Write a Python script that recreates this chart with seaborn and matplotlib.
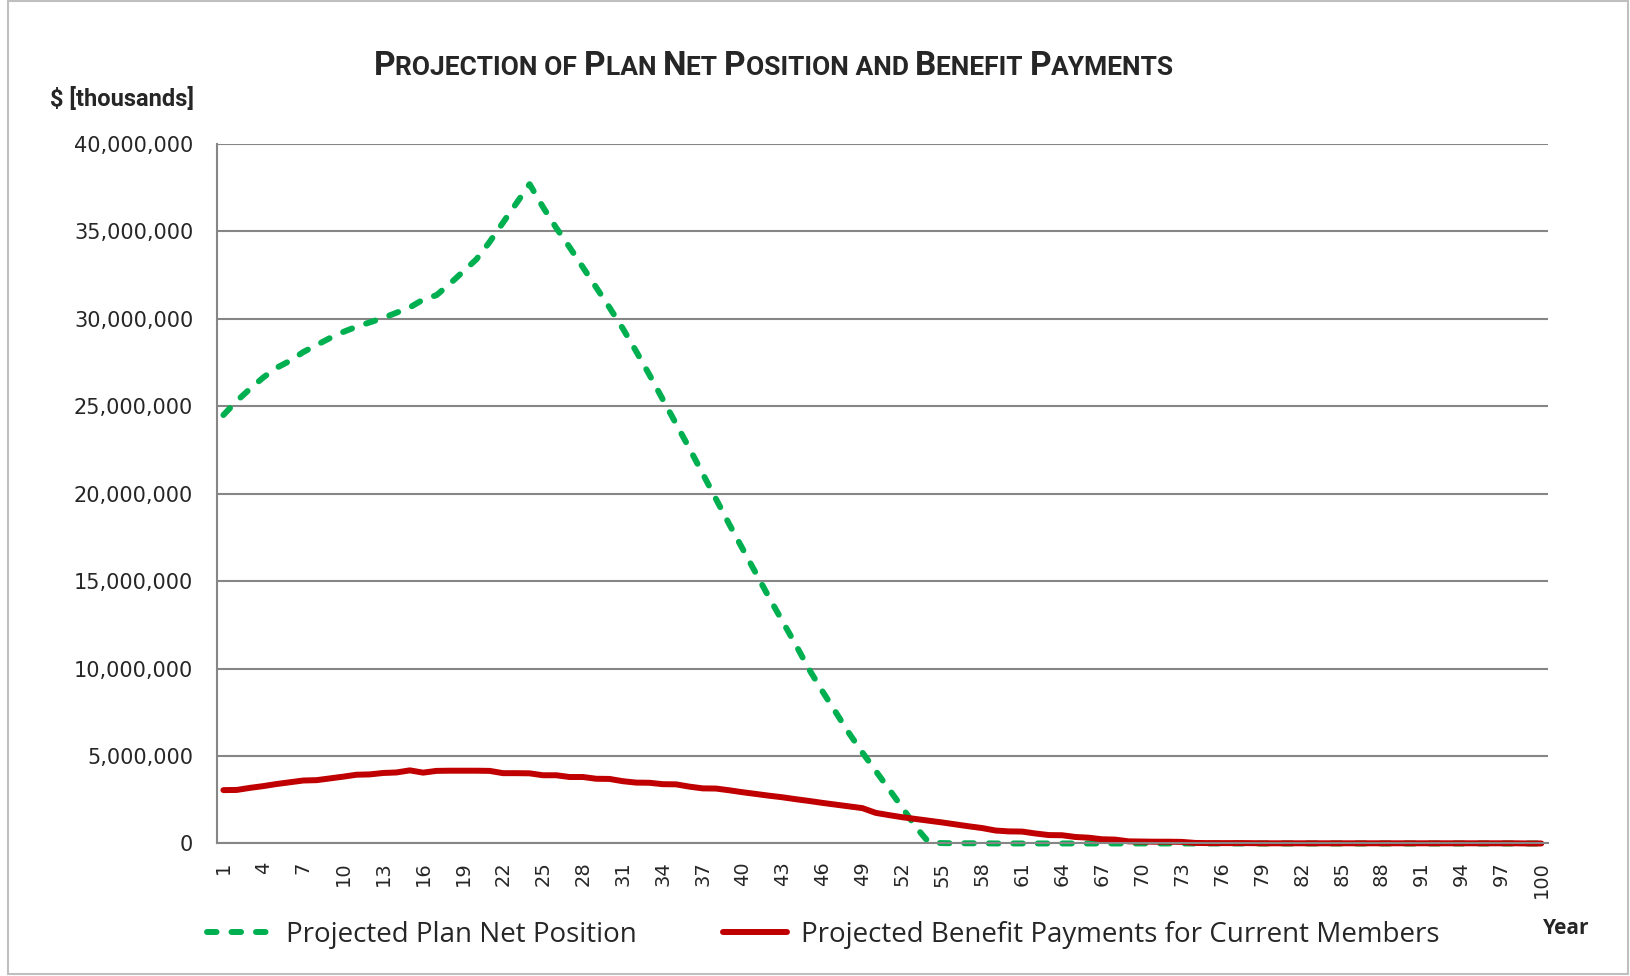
import numpy as np
import pandas as pd
import matplotlib
matplotlib.use("Agg")
import matplotlib.pyplot as plt
import seaborn as sns
from matplotlib.ticker import FuncFormatter, FixedLocator
from matplotlib.offsetbox import TextArea, HPacker, AnchoredOffsetbox
from matplotlib.lines import Line2D
from matplotlib.patches import Rectangle

# values in millions of $ thousands (axis shows $ thousands)
years = list(range(1, 101))
net_position = [
    24.5, 25.3, 26.0, 26.65, 27.2, 27.6, 28.1, 28.5, 28.9, 29.25,
    29.55, 29.8, 30.05, 30.35, 30.65, 31.1, 31.35, 32.0, 32.7, 33.4,
    34.4, 35.5, 36.6, 37.7, 36.4, 35.2, 34.1, 32.95, 31.8, 30.65,
    29.45, 28.15, 26.8, 25.4, 24.0, 22.6, 21.15, 19.7, 18.25, 16.85,
    15.45, 14.05, 12.7, 11.35, 9.95, 8.7, 7.5, 6.3, 5.2, 4.15,
    3.1, 2.05, 0.95, 0.05, 0.02, 0.01, 0.01, 0.01, 0.0, 0.0,
    0.0, 0.0, 0.0, 0.0, 0.0, 0.0, 0.0, 0.0, 0.0, 0.0,
    0.0, 0.0, 0.0, 0.0, 0.0, 0.0, 0.0, 0.0, 0.0, 0.0,
    0.0, 0.0, 0.0, 0.0, 0.0, 0.0, 0.0, 0.0, 0.0, 0.0,
    0.0, 0.0, 0.0, 0.0, 0.0, 0.0, 0.0, 0.0, 0.0, 0.0,
]
benefit_payments = [
    3.05, 3.06, 3.18, 3.28, 3.40, 3.50, 3.60, 3.62, 3.72, 3.82,
    3.93, 3.95, 4.03, 4.06, 4.18, 4.05, 4.15, 4.16, 4.16, 4.16,
    4.15, 4.02, 4.02, 4.01, 3.90, 3.90, 3.80, 3.80, 3.70, 3.69,
    3.56, 3.48, 3.47, 3.39, 3.38, 3.25, 3.15, 3.14, 3.04, 2.93,
    2.83, 2.73, 2.64, 2.53, 2.43, 2.32, 2.22, 2.12, 2.02, 1.75,
    1.62, 1.50, 1.40, 1.30, 1.20, 1.09, 0.98, 0.88, 0.74, 0.69,
    0.68, 0.57, 0.48, 0.47, 0.37, 0.33, 0.24, 0.22, 0.12, 0.11,
    0.10, 0.10, 0.09, 0.03, 0.02, 0.02, 0.02, 0.02, 0.01, 0.01,
    0.01, 0.01, 0.01, 0.01, 0.01, 0.01, 0.01, 0.01, 0.01, 0.01,
    0.01, 0.01, 0.01, 0.01, 0.01, 0.01, 0.01, 0.01, 0.0, 0.0,
]
series_names = ["Projected Plan Net Position", "Projected Benefit Payments for Current Members"]
colors = ["#00B050", "#C00000"]
y_ticks = [0, 5_000_000, 10_000_000, 15_000_000, 20_000_000, 25_000_000,
           30_000_000, 35_000_000, 40_000_000]
x_labels = list(range(1, 101, 3))

df = pd.DataFrame({
    "Year": years * 2,
    "Value": [v * 1e6 for v in net_position] + [v * 1e6 for v in benefit_payments],
    "Series": [series_names[0]] * 100 + [series_names[1]] * 100,
})

sns.set_style("white")
plt.rcParams["font.family"] = ["DejaVu Sans"]

grey = "#868686"
dash = (1.6, 2.5)
fig = plt.figure(figsize=(16.31, 9.76), dpi=100)
ax = fig.add_axes([0.1329, 0.1358, 0.9491 - 0.1329, 0.8525 - 0.1358])

sns.lineplot(data=df, x="Year", y="Value", hue="Series", style="Series",
             palette=dict(zip(series_names, colors)),
             dashes={series_names[0]: dash, series_names[1]: ""},
             linewidth=4.3, legend=False, ax=ax)
for ln in ax.get_lines():
    ln.set_clip_on(False)
    ln.set_dash_capstyle("round")
    ln.set_solid_capstyle("round")
    ln.set_solid_joinstyle("round")
    ln.set_dash_joinstyle("round")

ax.set_xlim(0.5, 100.5)
ax.set_ylim(0, 40_000_000)
ax.set_yticks(y_ticks)
ax.yaxis.set_major_formatter(FuncFormatter(lambda v, p: f"{int(v):,}"))
ax.set_xticks(x_labels)
ax.set_xticklabels([str(x) for x in x_labels], rotation=90, va="top")
ax.xaxis.set_minor_locator(FixedLocator(np.arange(0.5, 101, 1)))
ax.tick_params(axis="x", which="major", length=0, pad=13, labelsize=14)
ax.tick_params(axis="x", which="minor", length=6, width=1.5, color=grey, direction="out")
ax.tick_params(axis="y", which="major", length=5, width=1.5, color=grey, pad=12, labelsize=15)
ax.set_xlabel("")
ax.set_ylabel("")
ax.grid(axis="y", color=grey, linewidth=1.5)
ax.set_axisbelow(True)
for side in ["top", "right"]:
    ax.spines[side].set_visible(False)
for side in ["left", "bottom"]:
    ax.spines[side].set_color(grey)
    ax.spines[side].set_linewidth(1.5)

# small caps title
big, small = 24, 19
parts = [("P", big), ("ROJECTION OF ", small), ("P", big), ("LAN ", small), ("N", big),
         ("ET ", small), ("P", big), ("OSITION AND ", small), ("B", big), ("ENEFIT ", small),
         ("P", big), ("AYMENTS", small)]
boxes = [TextArea(t, textprops=dict(fontsize=s, fontweight="bold",
                                     family=["Roboto", "DejaVu Sans"]))
         for t, s in parts]
title = HPacker(children=boxes, align="baseline", pad=0, sep=0)
anchored = AnchoredOffsetbox(loc="center", child=title, frameon=False,
                             bbox_to_anchor=(0.4746, 0.932), bbox_transform=fig.transFigure,
                             borderpad=0, pad=0)
fig.add_artist(anchored)

fig.text(0.0307, 0.899, "$ [thousands]", fontsize=17, fontweight="bold",
         family=["Roboto", "DejaVu Sans"], va="center", ha="left")
fig.text(0.946, 0.049, "Year", fontsize=15, fontweight="bold",
         family=["Open Sans", "DejaVu Sans"], va="center", ha="left")

handles = [Line2D([], [], color=colors[0], linewidth=4.3, dashes=dash,
                  dash_capstyle="round"),
           Line2D([], [], color=colors[1], linewidth=4.3, solid_capstyle="round")]
fig.legend(handles, series_names, loc="center", bbox_to_anchor=(0.505, 0.042),
           ncol=2, frameon=False, handlelength=2.3, handletextpad=0.53,
           columnspacing=3.1, prop={"family": ["Open Sans", "DejaVu Sans"], "size": 20})

fig.patches.append(Rectangle((0.005, 0.002), 0.993, 0.997, transform=fig.transFigure,
                             fill=False, edgecolor="#BFBFBF", linewidth=1.5))

fig.savefig("out.png", dpi=100)
